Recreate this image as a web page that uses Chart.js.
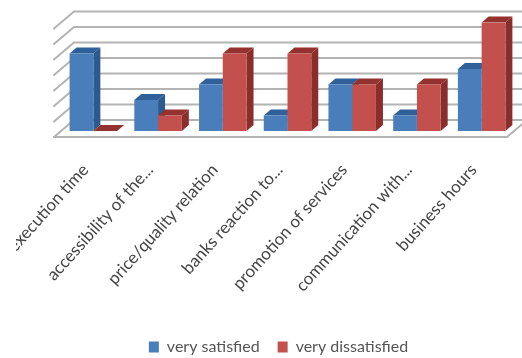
<!DOCTYPE html>
<html>
<head>
<meta charset="utf-8">
<script src="https://cdn.jsdelivr.net/npm/chart.js@4"></script>
<style>
  html, body { margin: 0; padding: 0; background: #fff; overflow: hidden; }
  #box { position: absolute; left: 16px; top: 0; width: 506px; height: 358px; }
</style>
</head>
<body>
<div id="box"><canvas id="c" width="506" height="358"></canvas></div>
<script>
const categories = ["execution time", "accessibility of the...", "price/quality relation", "banks reaction to...", "promotion of services", "communication with...", "business hours"];
const verySatisfied = [5, 2, 3, 1, 3, 1, 4];
const veryDissatisfied = [0, 1, 5, 5, 3, 3, 7];
const seriesNames = ["very satisfied", "very dissatisfied"];
const frontColors = ["#4a7ebb", "#c4504d"];
const sideColors = ["#2a5a8e", "#8a2e2b"];
const topColors = ["#30609a", "#93322f"];

// Depth of the bars and of the surrounding floor and walls, in pixels.
const BAR_DX = 7, BAR_DY = 6;
const WALL_DX = 20, WALL_DY = 17;

function poly(ctx, pts, fill) {
  ctx.beginPath();
  pts.forEach((p, i) => i ? ctx.lineTo(p[0], p[1]) : ctx.moveTo(p[0], p[1]));
  ctx.closePath();
  ctx.fillStyle = fill;
  ctx.fill();
}

const box3d = {
  id: "box3d",
  beforeDatasetsDraw(chart) {
    const { ctx, chartArea: a, scales: { y } } = chart;
    const fl = a.left - BAR_DX, fr = a.right - BAR_DX;
    ctx.save();

    // Floor outline, back wall and side wall lines
    ctx.strokeStyle = "#b3b3b3";
    ctx.lineWidth = 2;
    ctx.lineCap = "round";
    y.ticks.forEach(t => {
      const py = y.getPixelForValue(t.value) + BAR_DY;
      ctx.beginPath();
      ctx.moveTo(fl, py);
      ctx.lineTo(fl + WALL_DX, py - WALL_DY);
      ctx.lineTo(fr + WALL_DX, py - WALL_DY);
      ctx.stroke();
    });
    const floorY = y.getPixelForValue(0) + BAR_DY;
    ctx.beginPath();
    ctx.moveTo(fl, floorY);
    ctx.lineTo(fr, floorY);
    ctx.lineTo(fr + WALL_DX, floorY - WALL_DY);
    ctx.stroke();

    // Side and top faces; the library paints the front faces over them
    chart.data.datasets.forEach((ds, di) => {
      chart.getDatasetMeta(di).data.forEach(bar => {
        const l = bar.x - bar.width / 2, r = bar.x + bar.width / 2;
        const t = bar.y, b = bar.base;
        poly(ctx, [[r, t], [r + BAR_DX, t - BAR_DY], [r + BAR_DX, b - BAR_DY], [r, b]], sideColors[di]);
        poly(ctx, [[l, t], [r, t], [r + BAR_DX, t - BAR_DY], [l + BAR_DX, t - BAR_DY]], topColors[di]);
      });
    });
    ctx.restore();
  }
};

new Chart(document.getElementById("c"), {
  type: "bar",
  data: {
    labels: categories,
    datasets: [
      { label: seriesNames[0], data: verySatisfied, backgroundColor: frontColors[0] },
      { label: seriesNames[1], data: veryDissatisfied, backgroundColor: frontColors[1] }
    ]
  },
  plugins: [box3d],
  options: {
    responsive: false,
    animation: false,
    categoryPercentage: 0.734,
    barPercentage: 1,
    layout: { padding: { left: 27, right: 8, top: 22.5, bottom: -7 } },
    plugins: {
      tooltip: { enabled: false },
      legend: {
        position: "bottom",
        labels: {
          boxWidth: 10,
          boxHeight: 11,
          padding: 18,
          color: "#555",
          font: { family: "Lato", size: 16 }
        }
      }
    },
    scales: {
      x: {
        grid: { display: false },
        border: { display: false },
        afterFit(s) { s.height = 190; s.paddingLeft = 0; s.paddingRight = 0; },
        ticks: {
          autoSkip: false,
          minRotation: 48,
          maxRotation: 48,
          padding: 21,
          labelOffset: -8,
          color: "#444",
          font: { family: "Lato", size: 17 }
        }
      },
      y: {
        min: 0,
        max: 7,
        grid: { display: false },
        border: { display: false },
        afterFit(s) { s.width = 18; },
        ticks: { display: false, stepSize: 1 }
      }
    }
  }
});
</script>
</body>
</html>
